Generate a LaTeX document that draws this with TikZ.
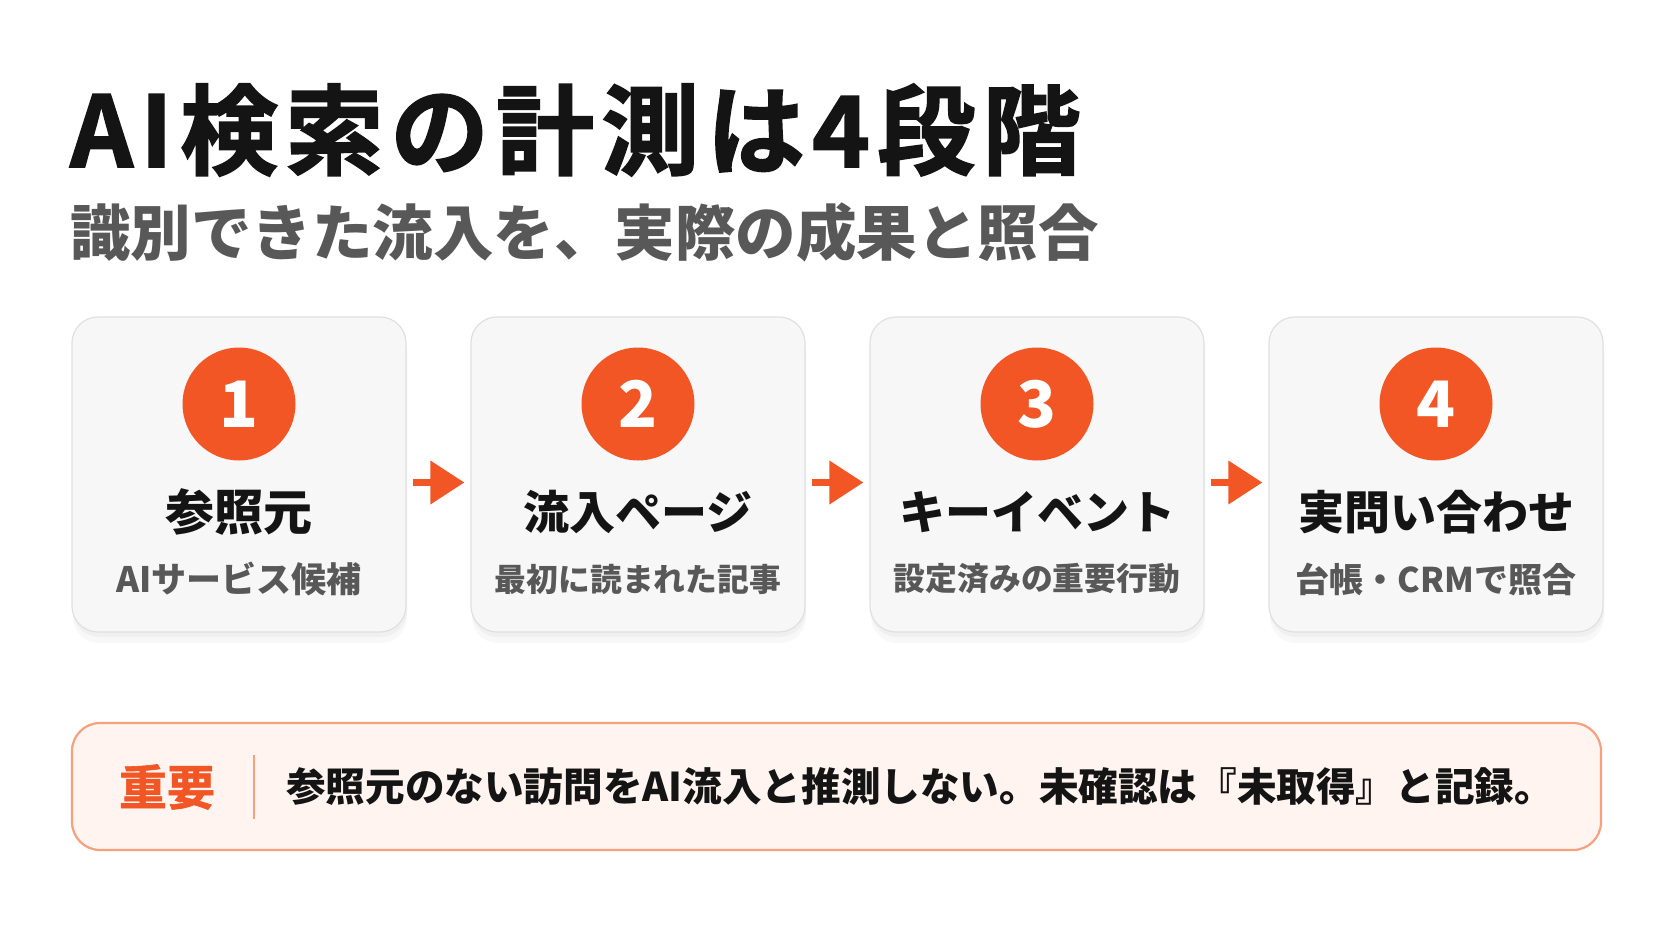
\documentclass[tikz,border=0pt]{standalone}
\usepackage{fontspec}
\setmainfont{Noto Sans CJK JP}
\newfontfamily\heavyfont{Noto Sans CJK JP Bold}[FakeBold=1.8,LetterSpace=7.5]
\newfontfamily\keyfont{Noto Sans CJK JP Bold}[FakeBold=1.2]
\usetikzlibrary{shadows,arrows.meta}
\definecolor{accent}{RGB}{241,86,36}
\definecolor{ink}{RGB}{20,20,20}
\definecolor{subgray}{RGB}{88,88,88}
\definecolor{cardfill}{RGB}{247,247,247}
\definecolor{cardline}{RGB}{224,224,224}
\definecolor{notefill}{RGB}{255,244,239}
\definecolor{noteline}{RGB}{247,160,126}
\begin{document}
\begin{tikzpicture}[x=1pt,y=-1pt,
    card/.style={draw=cardline,line width=1.2pt,fill=cardfill,rounded corners=26pt,minimum width=334pt,minimum height=315pt,
        drop shadow={opacity=0.05,shadow xshift=1pt,shadow yshift=-11pt},
        drop shadow={opacity=0.06,shadow xshift=1pt,shadow yshift=-5pt}},
    badge/.style={circle,fill=accent,text=white,minimum size=113pt,inner sep=0pt,font=\fontsize{64}{66}\selectfont\bfseries},
    head/.style={inner sep=0pt,text=ink,font=\fontsize{46}{50}\selectfont\bfseries},
    sub/.style={inner sep=0pt,text=subgray,font=\fontsize{31.8}{34}\selectfont\bfseries},
    flow/.style={accent,line width=7pt,-{Triangle[length=34pt,width=42pt]}}]
        \fill[white] (0,0) rectangle (1672,941);
        \useasboundingbox (0,0) rectangle (1672,941);
        \node[anchor=west,inner sep=0pt,text=ink,font=\fontsize{98}{100}\heavyfont] (title) at (70,130) {AI検索の計測は4段階};
        \node[anchor=west,inner sep=0pt,text=subgray,font=\fontsize{60.5}{64}\selectfont\bfseries] (subtitle) at (70,232) {識別できた流入を、実際の成果と照合};

        \node[card] (card1) at (239,474.5) {};
        \node[card] (card2) at (638,474.5) {};
        \node[card] (card3) at (1037,474.5) {};
        \node[card] (card4) at (1436,474.5) {};

        \node[badge] (num1) at (239,404) {1};
        \node[badge] (num2) at (638,404) {2};
        \node[badge] (num3) at (1037,404) {3};
        \node[badge] (num4) at (1436,404) {4};

        \node[head,font=\fontsize{49}{52}\selectfont\bfseries] (head1) at (239,512) {参照元};
        \node[head] (head2) at (638,512) {流入ページ};
        \node[head] (head3) at (1037,512) {キーイベント};
        \node[head] (head4) at (1436,512) {実問い合わせ};

        \node[sub,font=\fontsize{35}{38}\selectfont\bfseries] (sub1) at (239,579) {AIサービス候補};
        \node[sub] (sub2) at (638,579) {最初に読まれた記事};
        \node[sub] (sub3) at (1037,579) {設定済みの重要行動};
        \node[sub,font=\fontsize{34}{38}\selectfont\bfseries] (sub4) at (1436,579) {台帳・CRMで照合};

        \draw[flow,shorten <=6pt,shorten >=6pt] ([yshift=-8pt]card1.east) -- ([yshift=-8pt]card2.west);
        \draw[flow,shorten <=6pt,shorten >=6pt] ([yshift=-8pt]card2.east) -- ([yshift=-8pt]card3.west);
        \draw[flow,shorten <=6pt,shorten >=6pt] ([yshift=-8pt]card3.east) -- ([yshift=-8pt]card4.west);

        \node[draw=noteline,line width=2.2pt,fill=notefill,rounded corners=28pt,minimum width=1529pt,minimum height=127pt] (note) at (836.5,786.5) {};
        \node[inner sep=0pt,text=accent,font=\fontsize{48}{50}\keyfont] (notekey) at (167,787) {重要};
        \draw[noteline,line width=2pt] (254,755) -- (254,819);
        \node[anchor=west,inner sep=0pt,text=ink,font=\fontsize{39.6}{44}\selectfont\bfseries] (notetext) at (286,787) {参照元のない訪問をAI流入と推測しない。未確認は『未取得』と記録。};
    \end{tikzpicture}
\end{document}
